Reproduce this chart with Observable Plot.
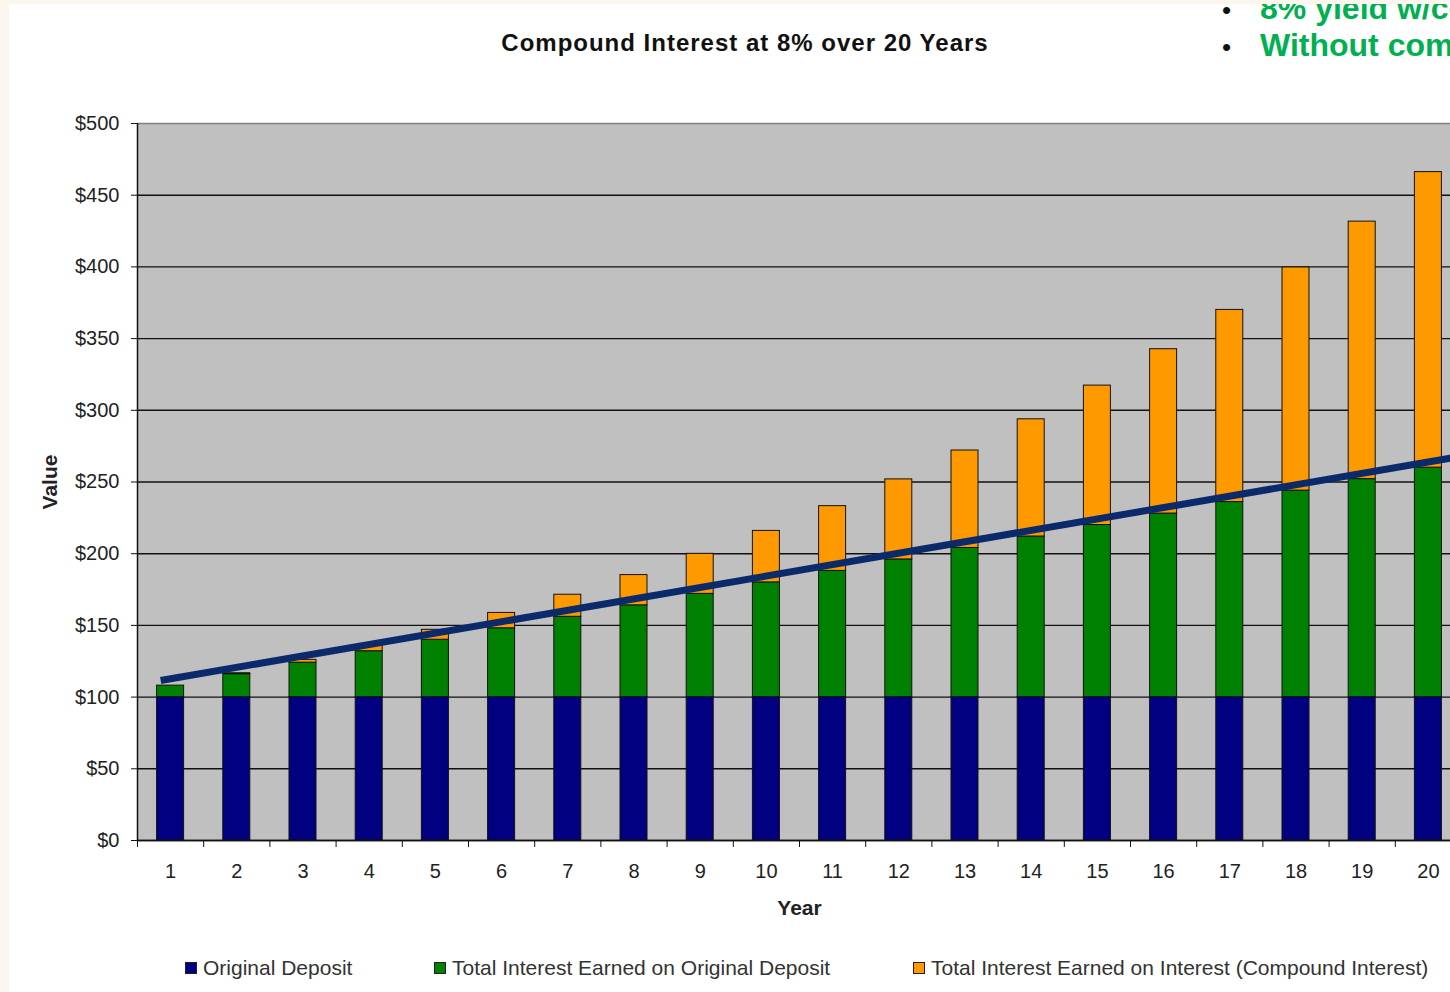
<!DOCTYPE html>
<html>
<head>
<meta charset="utf-8">
<script src="https://cdn.jsdelivr.net/npm/d3@7"></script>
<script src="https://cdn.jsdelivr.net/npm/@observablehq/plot@0.6"></script>
<style>
  html, body { margin: 0; padding: 0; width: 1450px; height: 992px; overflow: hidden; background: #fcf7ee; }
  #slide { position: absolute; left: 9px; top: 4px; width: 1500px; height: 1000px; background: #fff; overflow: hidden; }
  .abs { position: absolute; white-space: nowrap; font-family: "Liberation Sans", Arial, sans-serif; }
  #title { left: 0; width: 1472px; top: 25px; text-align: center; font-weight: bold; font-size: 24px; letter-spacing: 1px; color: #111; }
  .bullet { font-weight: bold; font-size: 32px; color: #00b050; }
  .dot { color: #111; font-size: 26px; }
  .leg { top: 952px; font-size: 21px; color: #333; }
  .sw { display: inline-block; width: 10px; height: 10px; border: 1px solid #222; margin-right: 6px; vertical-align: 1px; }
  #chart { position: absolute; left: -9px; top: 86px; }
</style>
</head>
<body>
<div id="slide">
  <div class="abs dot" style="left:1213px; top:-9px;">•</div>
  <div class="abs bullet" style="left:1251px; top:-14px;">8% yield w/compound interest</div>
  <div class="abs dot" style="left:1213px; top:28px;">•</div>
  <div class="abs bullet" style="left:1251px; top:23px;">Without compounding</div>
  <div id="title" class="abs">Compound Interest at 8% over 20 Years</div>
  <div id="chart"></div>
  <div id="legend"></div>
</div>
<script>
const years = [1,2,3,4,5,6,7,8,9,10,11,12,13,14,15,16,17,18,19,20];
const originalDeposit = [100,100,100,100,100,100,100,100,100,100,100,100,100,100,100,100,100,100,100,100];
const interestOnDeposit = [8,16,24,32,40,48,56,64,72,80,88,96,104,112,120,128,136,144,152,160];
const interestOnInterest = [0,0.64,1.97,4.05,6.93,10.69,15.38,21.09,27.9,35.89,45.16,55.82,67.96,81.72,97.22,114.59,134.0,155.6,179.57,206.1];
const seriesNames = ["Original Deposit", "Total Interest Earned on Original Deposit", "Total Interest Earned on Interest (Compound Interest)"];
const seriesColors = ["#000080", "#008000", "#ff9900"];
const trendYear = [0.85, 20.5];
const trendValue = [111.6, 268];
const yTicks = [0,50,100,150,200,250,300,350,400,450,500];
const legendLeft = [176, 425, 904];

const seriesValues = [originalDeposit, interestOnDeposit, interestOnInterest];
const rows = [];
years.forEach((yr, i) => {
  let base = 0;
  seriesValues.forEach((vals, s) => {
    rows.push({year: yr, series: seriesNames[s], y1: base, y2: base + vals[i]});
    base += vals[i];
  });
});
const trend = trendYear.map((x, i) => ({x, y: trendValue[i]}));
const boundaries = [0, ...years].map(d => d + 0.5);

const chart = Plot.plot({
  width: 1475, height: 850,
  marginLeft: 137, marginRight: 14, marginTop: 33, marginBottom: 100,
  x: {domain: [0.5, 20.5]},
  y: {domain: [0, 500]},
  color: {domain: seriesNames, range: seriesColors},
  style: {background: "transparent", fontFamily: "'Liberation Sans', Arial, sans-serif", fontSize: "20px", color: "#222", overflow: "visible"},
  marks: [
    Plot.frame({fill: "#c0c0c0", stroke: null}),
    Plot.ruleY(yTicks.slice(0, -1), {stroke: "#111", strokeWidth: 1.4}),
    Plot.ruleY([500], {stroke: "#808080", strokeWidth: 1.4}),
    Plot.rect(rows, {x1: d => d.year - 0.5, x2: d => d.year + 0.5, y1: "y1", y2: "y2", fill: "series", stroke: "#111", strokeWidth: 1, insetLeft: 19.6, insetRight: 19.6}),
    Plot.line(trend, {x: "x", y: "y", stroke: "#0b2a6c", strokeWidth: 7, strokeLinecap: "butt"}),
    Plot.ruleX([0.5], {stroke: "#111", strokeWidth: 1.5}),
    Plot.ruleY([0], {stroke: "#111", strokeWidth: 1.5}),
    Plot.axisY({ticks: yTicks, tickFormat: d => "$" + d, tickSize: 6, tickPadding: 12, label: null, stroke: "#111"}),
    Plot.axisX({ticks: boundaries, tickSize: 7, tickFormat: () => "", label: null, stroke: "#111"}),
    Plot.axisX({ticks: years, tickSize: 0, tickPadding: 23, tickFormat: d => String(d), label: null}),
    Plot.text(["Year"], {frameAnchor: "bottom", dy: 74, fontWeight: "bold", fontSize: 21, fill: "#222"}),
    Plot.text(["Value"], {frameAnchor: "left", textAnchor: "middle", dx: -87, rotate: -90, fontWeight: "bold", fontSize: 21, fill: "#222"})
  ]
});
document.getElementById("chart").appendChild(chart);

const legend = document.getElementById("legend");
seriesNames.forEach((name, i) => {
  const item = document.createElement("div");
  item.className = "abs leg";
  item.style.left = legendLeft[i] + "px";
  item.innerHTML = `<span class="sw" style="background:${seriesColors[i]}"></span>${name}`;
  legend.appendChild(item);
});
</script>
</body>
</html>
